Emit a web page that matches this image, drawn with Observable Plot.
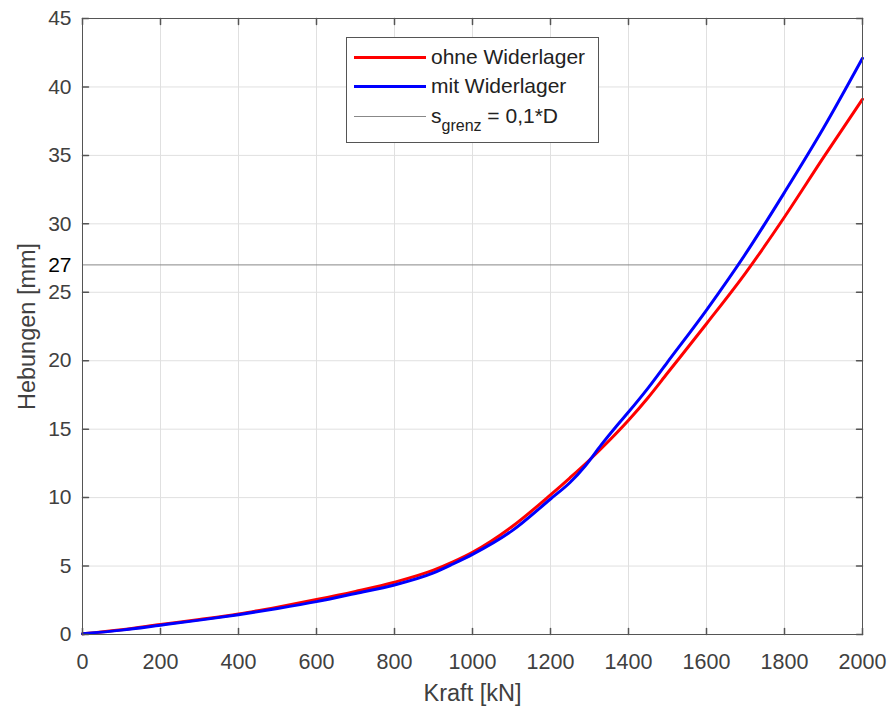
<!DOCTYPE html>
<html>
<head>
<meta charset="utf-8">
<script src="https://cdn.jsdelivr.net/npm/d3@7"></script>
<script src="https://cdn.jsdelivr.net/npm/@observablehq/plot@0.6"></script>
<style>
  html, body { margin: 0; padding: 0; background: #fff; }
  #wrap { position: relative; width: 890px; height: 709px; font-family: "Liberation Sans", Arial, Helvetica, sans-serif; }
  #legend { position: absolute; left: 346px; top: 37px; width: 253px; height: 106px; border: 1px solid #555; background: #fff; box-sizing: border-box; font-size: 21px; color: #222; }
  .row { position: absolute; left: 0; display: flex; align-items: center; height: 26px; }
  .sw { width: 72px; margin-left: 7px; margin-right: 5px; }
  sub { font-size: 16px; vertical-align: -0.5em; line-height: 0; }
</style>
</head>
<body>
<div id="wrap">
  <div id="chart"></div>
  <div id="legend">
    <div class="row" style="top:6px"><div class="sw" style="border-top:3px solid #ff0000"></div><span>ohne Widerlager</span></div>
    <div class="row" style="top:35px"><div class="sw" style="border-top:3px solid #0000ff"></div><span>mit Widerlager</span></div>
    <div class="row" style="top:65px"><div class="sw" style="border-top:1px solid #888"></div><span>s<sub>grenz</sub> = 0,1*D</span></div>
  </div>
</div>
<script>
// Kraft [kN]
const kraftOhne = [0, 100, 200, 300, 400, 500, 600, 700, 800, 900, 950, 1000, 1100, 1200, 1250, 1300, 1350, 1400, 1450, 1500, 1600, 1700, 1800, 1900, 2000];
// Hebungen [mm], ohne Widerlager
const hebungOhne = [0.05, 0.35, 0.73, 1.1, 1.5, 2.0, 2.55, 3.15, 3.82, 4.7, 5.3, 6.0, 7.85, 10.2, 11.45, 12.75, 14.15, 15.65, 17.3, 19.1, 22.7, 26.4, 30.5, 34.85, 39.1];
const kraftMit = [0, 100, 200, 300, 400, 500, 600, 700, 800, 900, 950, 1000, 1100, 1200, 1250, 1290, 1330, 1370, 1400, 1450, 1500, 1600, 1700, 1800, 1900, 2000];
// Hebungen [mm], mit Widerlager
const hebungMit = [0.05, 0.32, 0.68, 1.05, 1.45, 1.9, 2.4, 3.0, 3.62, 4.5, 5.15, 5.85, 7.55, 9.9, 11.1, 12.35, 13.85, 15.25, 16.25, 18.0, 19.9, 23.7, 27.8, 32.3, 37.0, 42.1];
const sGrenz = 27;
const xTicks = [0, 200, 400, 600, 800, 1000, 1200, 1400, 1600, 1800, 2000];
const yTicks = [0, 5, 10, 15, 20, 25, 30, 35, 40, 45];
const xDomain = [0, 2000];
const yDomain = [0, 45];

const ohne = kraftOhne.map((k, i) => ({k, h: hebungOhne[i]}));
const mit = kraftMit.map((k, i) => ({k, h: hebungMit[i]}));

// a plain tick-line shape for vector marks
const tickShape = { draw(context, l) { context.moveTo(0, 0); context.lineTo(0, -l); } };
const tickLen = 6;

const tickColor = "#404040";
const frameColor = "#555";
const chart = Plot.plot({
  width: 890,
  height: 709,
  marginLeft: 82,
  marginRight: 28,
  marginTop: 18,
  marginBottom: 75,
  style: { fontFamily: '"Liberation Sans", Arial, Helvetica, sans-serif', fontSize: "21px", background: "#fff", overflow: "visible" },
  x: { domain: xDomain },
  y: { domain: yDomain },
  marks: [
    Plot.gridX(xTicks, { stroke: "#e0e0e0", strokeOpacity: 1 }),
    Plot.gridY(yTicks, { stroke: "#e0e0e0", strokeOpacity: 1 }),
    Plot.ruleY([sGrenz], { stroke: "#888", strokeWidth: 1 }),
    Plot.line(ohne, { x: "k", y: "h", stroke: "#ff0000", strokeWidth: 3, curve: "monotone-x" }),
    Plot.line(mit, { x: "k", y: "h", stroke: "#0000ff", strokeWidth: 3, curve: "monotone-x" }),
    Plot.frame({ stroke: frameColor, strokeWidth: 1 }),
    // inward ticks on all four sides
    Plot.vector(xTicks, { x: d => d, y: yDomain[0], length: tickLen, rotate: 0, anchor: "start", shape: tickShape, stroke: frameColor }),
    Plot.vector(xTicks, { x: d => d, y: yDomain[1], length: tickLen, rotate: 180, anchor: "start", shape: tickShape, stroke: frameColor }),
    Plot.vector(yTicks, { y: d => d, x: xDomain[0], length: tickLen, rotate: 90, anchor: "start", shape: tickShape, stroke: frameColor }),
    Plot.vector(yTicks, { y: d => d, x: xDomain[1], length: tickLen, rotate: 270, anchor: "start", shape: tickShape, stroke: frameColor }),
    // labels
    Plot.axisX(xTicks, { anchor: "bottom", tickSize: 0, tickPadding: 19, fill: tickColor, fontSize: 21.5, tickFormat: d3.format("d"),
      label: "Kraft [kN]", labelAnchor: "center", labelArrow: "none", labelOffset: 66 }),
    Plot.axisY(yTicks, { anchor: "left", tickSize: 0, tickPadding: 11, fill: tickColor, fontSize: 21, tickFormat: d3.format("d"),
      label: "Hebungen [mm]", labelAnchor: "center", labelArrow: "none", labelOffset: 64 }),
    Plot.axisY([sGrenz], { anchor: "left", tickSize: 0, tickPadding: 11, fill: "#000", fontSize: 21, label: null })
  ]
});
document.getElementById("chart").appendChild(chart);
d3.select(chart).selectAll("g[aria-label='x-axis label'] text, g[aria-label='y-axis label'] text")
  .style("font-size", "23.5px").attr("fill", tickColor);
</script>
</body>
</html>
